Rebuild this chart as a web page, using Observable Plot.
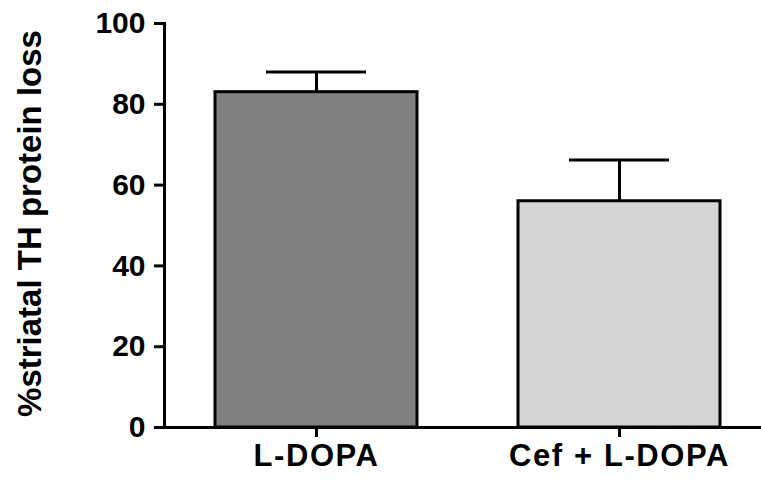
<!DOCTYPE html>
<html>
<head>
<meta charset="utf-8">
<script src="https://cdn.jsdelivr.net/npm/d3@7"></script>
<script src="https://cdn.jsdelivr.net/npm/@observablehq/plot@0.6"></script>
<style>
  body { margin: 0; background: #fff; }
  svg { font-family: "Liberation Sans", Arial, sans-serif; }
</style>
</head>
<body>
<div id="chart"></div>
<script>
const categories = ["L-DOPA", "Cef + L-DOPA"];
const means = [83.0, 56.0];
const errUpper = [88.0, 66.2];
const fills = ["#808080", "#d3d3d3"];
const yTicks = [0, 20, 40, 60, 80, 100];
const yLabel = "%striatal TH protein loss";

const data = categories.map((c, i) => ({cat: c, mean: means[i], hi: errUpper[i], fill: fills[i]}));

const chart = Plot.plot({
  width: 761,
  height: 481,
  marginLeft: 164,
  marginRight: 0,
  marginTop: 23,
  marginBottom: 54,
  style: {fontFamily: "'Liberation Sans', Arial, sans-serif", background: "#fff"},
  x: {domain: categories, range: [164, 771], paddingInner: 0.333, paddingOuter: 0.168},
  y: {domain: [0, 100]},
  marks: [
    Plot.frame({anchor: "left", stroke: "#000", strokeWidth: 3}),
    Plot.ruleY([0], {stroke: "#000", strokeWidth: 3}),
    Plot.ruleX(data, {x: "cat", y1: "mean", y2: "hi", stroke: "#000", strokeWidth: 3}),
    Plot.tickY(data, {x: "cat", y: "hi", stroke: "#000", strokeWidth: 3, insetLeft: 51, insetRight: 51}),
    Plot.barY(data, {x: "cat", y: "mean", fill: "fill", stroke: "#000", strokeWidth: 3, strokeLinejoin: "miter"}),
    Plot.axisY({ticks: yTicks, tickSize: 10, tickPadding: 9, strokeWidth: 3, fontSize: 30, fontWeight: "bold", fill: "#000", label: null, tickFormat: d => String(d)}),
    Plot.axisX({tickSize: 10, tickPadding: 6, strokeWidth: 3, fontSize: 31, fontWeight: "bold", fill: "#000", label: null}),
    Plot.text([yLabel], {frameAnchor: "left", rotate: -90, dx: -134, dy: -2, fontSize: 33, fontWeight: "bold", fill: "#000", textAnchor: "middle", lineAnchor: "middle"})
  ]
});
d3.select(chart).selectAll("g[aria-label='x-axis tick label'] text").attr("letter-spacing", "1.6px");
document.getElementById("chart").appendChild(chart);
</script>
</body>
</html>
